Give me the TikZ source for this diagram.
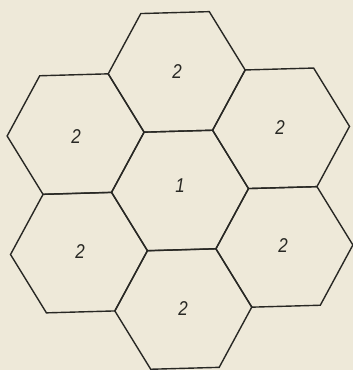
\documentclass[tikz,border=0pt]{standalone}
\usepackage{fontspec}
\setmainfont{Liberation Sans}
\newfontfamily\labelfont[FakeStretch=0.85]{Liberation Sans}
\usetikzlibrary{shapes.geometric}
\definecolor{paper}{RGB}{238,233,217}
\definecolor{ink}{RGB}{40,40,36}
\tikzset{
  hexcell/.style={regular polygon, regular polygon sides=6, shape border rotate=1.6,
    minimum size=137pt, inner sep=0pt, outer sep=0pt, draw=ink, line width=1.4pt},
  celllabel/.style={font=\labelfont\fontsize{20}{20}\selectfont\itshape, text=ink, inner sep=0pt}
}
\begin{document}
\begin{tikzpicture}[x=1pt,y=1pt]
\fill[paper] (0,0) rectangle (353,370);
\useasboundingbox (0,0) rectangle (353,370);
\node[hexcell] (hc) at (180,179.5) {};
\node[hexcell] (ht) at (176.7,298.1) {};
\node[hexcell] (hb) at (183.3,61) {};
\node[hexcell] (hul) at (75.6,235.9) {};
\node[hexcell] (hur) at (281.05,241.7) {};
\node[hexcell] (hlr) at (284.4,123.1) {};
\node[hexcell] (hll) at (79,117.4) {};
\node[celllabel] (lc) at (180,184) {1};
\node[celllabel] (lt) at (177,298) {2};
\node[celllabel] (lul) at (76,233) {2};
\node[celllabel] (lur) at (280,242) {2};
\node[celllabel] (lll) at (80,118) {2};
\node[celllabel] (llr) at (283,124) {2};
\node[celllabel] (lb) at (183,61) {2};
\end{tikzpicture}
\end{document}
